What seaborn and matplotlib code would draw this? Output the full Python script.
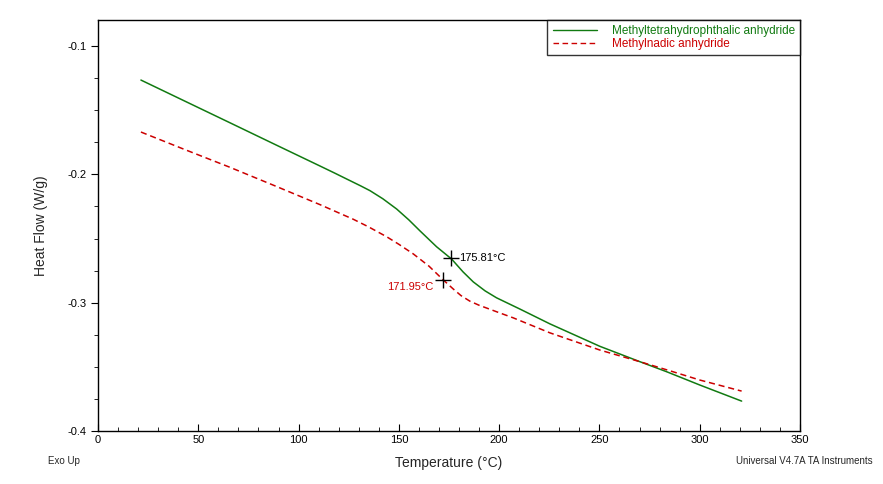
import matplotlib
matplotlib.use("Agg")
import matplotlib.pyplot as plt
import seaborn as sns
import pandas as pd
from matplotlib.ticker import MultipleLocator
from matplotlib.lines import Line2D

sns.set_theme(style="white")
plt.rcParams['font.family'] = ['Liberation Sans', 'DejaVu Sans']

# Methyltetrahydrophthalic anhydride (green, solid)
mthpa_temp = [21.4, 43.0, 65.8, 88.0, 110.7, 118.0, 125.0, 131.0, 135.6, 142.0, 148.9,
              155.0, 160.5, 168.8, 176.3, 182.0, 187.1, 193.0, 198.7, 210.4, 225.3,
              250.2, 270.2, 283.5, 300.1, 320.9]
mthpa_flow = [-0.1265, -0.1427, -0.1598, -0.1765, -0.1935, -0.1990, -0.2044, -0.2090,
              -0.2127, -0.2190, -0.2270, -0.2355, -0.2440, -0.2564, -0.2660, -0.2760,
              -0.2838, -0.2908, -0.2962, -0.3050, -0.3165, -0.3340, -0.3460, -0.3538,
              -0.3642, -0.3767]

# Methylnadic anhydride (red, dashed)
mna_temp = [21.4, 43.0, 65.8, 88.0, 110.7, 120.0, 127.3, 135.0, 143.9, 150.0, 157.2,
            165.0, 172.1, 177.1, 181.0, 185.4, 190.0, 193.8, 200.0, 207.0, 225.3,
            250.2, 270.2, 285.0, 300.1, 320.9]
mna_flow = [-0.1670, -0.1805, -0.1945, -0.2088, -0.2236, -0.2300, -0.2350, -0.2410,
            -0.2486, -0.2545, -0.2620, -0.2715, -0.2822, -0.2893, -0.2945, -0.2988,
            -0.3020, -0.3042, -0.3078, -0.3118, -0.3235, -0.3369, -0.3460, -0.3530,
            -0.3603, -0.3689]

series_names = ["Methyltetrahydrophthalic anhydride", "Methylnadic anhydride"]
series_colors = ["#117a11", "#cc0000"]

onset_temps = [175.81, 171.95]
onset_flows = [-0.2655, -0.2820]
onset_labels = ["175.81°C", "171.95°C"]

x_ticks = [0, 50, 100, 150, 200, 250, 300, 350]
y_ticks = [-0.1, -0.2, -0.3, -0.4]

df = pd.concat([
    pd.DataFrame({"Temperature": mthpa_temp, "HeatFlow": mthpa_flow, "Sample": series_names[0]}),
    pd.DataFrame({"Temperature": mna_temp, "HeatFlow": mna_flow, "Sample": series_names[1]}),
])

fig = plt.figure(figsize=(8.83, 4.84), dpi=100)
ax = fig.add_axes([98/883, 1-431/484, (800-98)/883, (431-20)/484])

sns.lineplot(data=df, x="Temperature", y="HeatFlow", hue="Sample", style="Sample",
             palette=series_colors, dashes=[(None, None), (4, 2.5)], linewidth=1.1,
             ax=ax, legend=False, sort=False)

ax.set_xlim(0, 350)
ax.set_ylim(-0.4, -0.0797)
ax.set_xticks(x_ticks)
ax.set_yticks(y_ticks)
ax.set_yticklabels(["-0.1", "-0.2", "-0.3", "-0.4"])
ax.xaxis.set_minor_locator(MultipleLocator(10))
ax.yaxis.set_minor_locator(MultipleLocator(0.025))
ax.tick_params(axis='both', which='both', left=True, bottom=True, top=False, right=False)
ax.tick_params(axis='x', which='both', direction='in', colors='black', labelsize=8, pad=3)
ax.tick_params(axis='x', which='major', length=5, width=0.8)
ax.tick_params(axis='x', which='minor', length=3, width=0.6)
ax.tick_params(axis='y', which='both', direction='out', colors='black', labelsize=8)
ax.tick_params(axis='y', which='major', length=5, width=0.8)
ax.tick_params(axis='y', which='minor', length=3, width=0.6)
for sp in ax.spines.values():
    sp.set_color('black')
    sp.set_linewidth(1.0)
    sp.set_visible(True)

ax.set_xlabel("Temperature (°C)", fontsize=10, labelpad=8)
ax.set_ylabel("Heat Flow (W/g)", fontsize=10, labelpad=14)

# Onset markers
ax.plot(onset_temps, onset_flows, linestyle='none', marker='+', markersize=12,
        markeredgewidth=1.0, color='black')
ax.annotate(onset_labels[0], (onset_temps[0], onset_flows[0]), xytext=(6, 0),
            textcoords='offset points', fontsize=8, color='black', va='center', ha='left')
ax.annotate(onset_labels[1], (onset_temps[1], onset_flows[1]), xytext=(-7, -5),
            textcoords='offset points', fontsize=8, color=series_colors[1], va='center', ha='right')

# Legend
handles = [Line2D([], [], color=series_colors[0], lw=1.0),
           Line2D([], [], color=series_colors[1], lw=1.0, dashes=(4, 2.5))]
leg = ax.legend(handles, series_names, loc='upper right', borderaxespad=0, fontsize=8.5,
                frameon=True, fancybox=False, edgecolor='black', handlelength=3.8,
                handletextpad=1.2, labelspacing=0.05, borderpad=0.45)
leg.get_frame().set_linewidth(1.0)
for t, c in zip(leg.get_texts(), series_colors):
    t.set_color(c)

fig.text(48/883, 1-461/484, "Exo Up", fontsize=7, ha='left', va='center')
fig.text(873/883, 1-461/484, "Universal V4.7A TA Instruments", fontsize=7, ha='right', va='center')

fig.savefig("out.png", dpi=100, facecolor='white')
